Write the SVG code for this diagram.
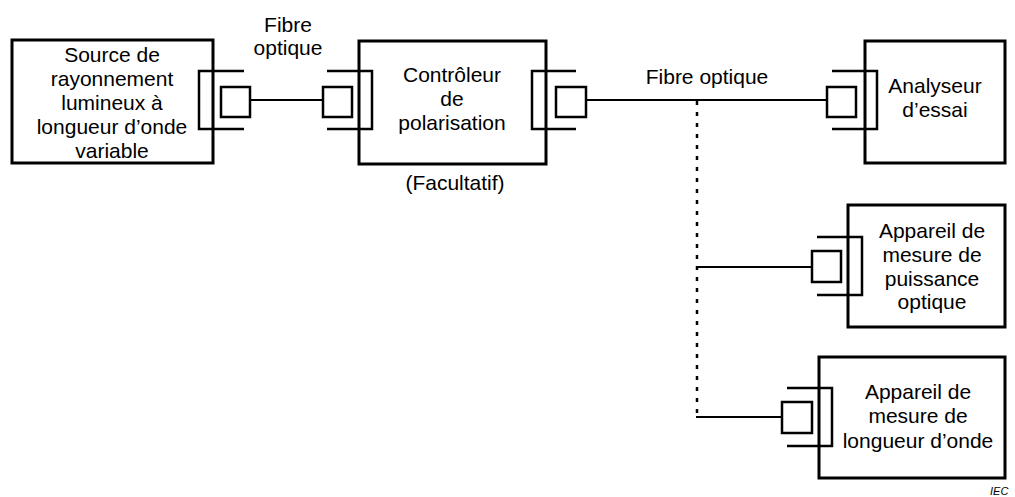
<svg xmlns="http://www.w3.org/2000/svg" width="1015" height="497" viewBox="0 0 1015 497">
<style>
.box{fill:#fff;stroke:#000;stroke-width:3}
.br{fill:none;stroke:#000;stroke-width:2.5}
.sq{fill:#fff;stroke:#000;stroke-width:2.5}
.ln{fill:none;stroke:#000;stroke-width:2}
.dash{fill:none;stroke:#000;stroke-width:2.5;stroke-dasharray:4 7}
text{font-family:"Liberation Sans",Arial,sans-serif;font-size:21px;fill:#000;text-anchor:middle}
.iec{font-size:11px;font-style:italic;text-anchor:start}
</style>
<g id="connectors">
<line class="ln" x1="250" y1="100" x2="323" y2="100"/>
<line class="ln" x1="586" y1="100" x2="828" y2="100"/>
<line class="dash" x1="697" y1="101" x2="697" y2="417"/>
<line class="ln" x1="696" y1="267" x2="812" y2="267"/>
<line class="ln" x1="696" y1="417" x2="782" y2="417"/>
<text x="288" y="32">Fibre</text>
<text x="288" y="55">optique</text>
<text x="707" y="84">Fibre optique</text>
</g>
<g id="source">
<rect class="box" x="12" y="40" width="201" height="123"/>
<path class="br" d="M244,71 H199 V129 H244"/>
<rect class="sq" x="221" y="87" width="29" height="30"/>
<text x="112" y="62">Source de</text>
<text x="112" y="86">rayonnement</text>
<text x="112" y="110">lumineux à</text>
<text x="112" y="134">longueur d’onde</text>
<text x="112" y="158">variable</text>
</g>
<g id="controleur">
<rect class="box" x="359" y="41" width="187" height="123"/>
<path class="br" d="M327,71 H372 V129 H327"/>
<rect class="sq" x="323" y="87" width="29" height="30"/>
<path class="br" d="M576,71 H532 V129 H576"/>
<rect class="sq" x="556" y="87" width="30" height="30"/>
<text x="452" y="82">Contrôleur</text>
<text x="452" y="106">de</text>
<text x="452" y="130">polarisation</text>
<text x="455" y="190">(Facultatif)</text>
</g>
<g id="analyseur">
<rect class="box" x="865" y="41" width="140" height="122"/>
<path class="br" d="M832,71 H877 V129 H832"/>
<rect class="sq" x="827" y="87" width="29" height="30"/>
<text x="935" y="93">Analyseur</text>
<text x="935" y="117">d’essai</text>
</g>
<g id="puissance">
<rect class="box" x="848" y="205" width="157" height="122"/>
<path class="br" d="M817,237 H862 V295 H817"/>
<rect class="sq" x="812" y="251" width="29" height="31"/>
<text x="932" y="238">Appareil de</text>
<text x="932" y="262">mesure de</text>
<text x="932" y="286">puissance</text>
<text x="932" y="309">optique</text>
</g>
<g id="longueur">
<rect class="box" x="819" y="357" width="186" height="121"/>
<path class="br" d="M787,388 H832 V446 H787"/>
<rect class="sq" x="782" y="402" width="30" height="31"/>
<text x="918" y="399">Appareil de</text>
<text x="918" y="423">mesure de</text>
<text x="918" y="448">longueur d’onde</text>
</g>
<text class="iec" x="990" y="495">IEC</text>
</svg>
